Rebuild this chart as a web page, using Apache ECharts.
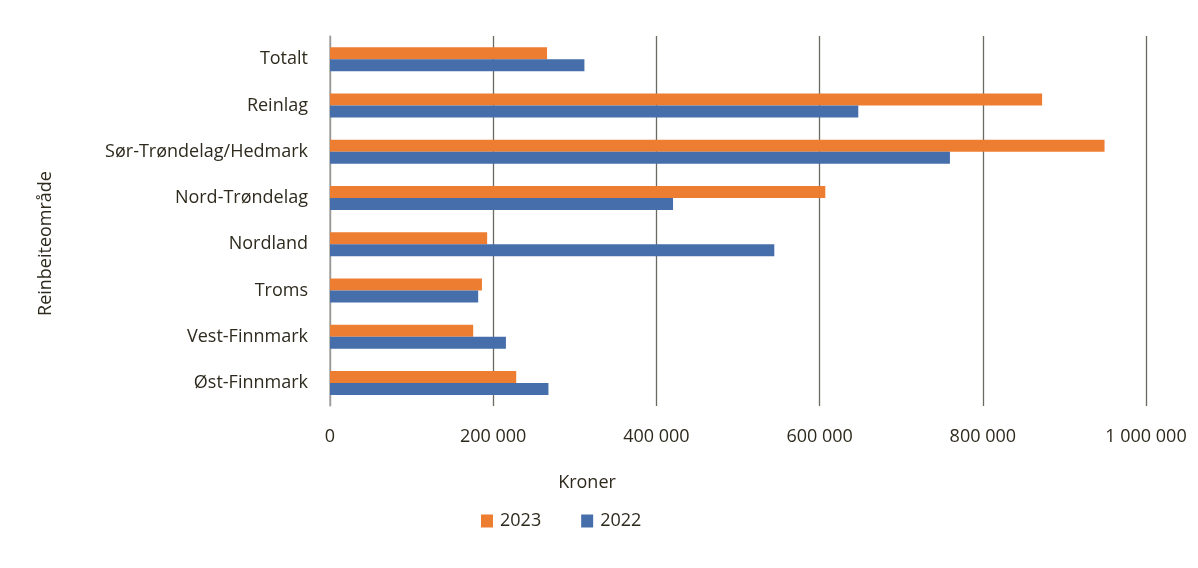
<!DOCTYPE html>
<html>
<head>
<meta charset="utf-8">
<script src="https://cdn.jsdelivr.net/npm/echarts@6/dist/echarts.min.js"></script>
<style>
html,body{margin:0;padding:0;background:#fff;}
#chart{width:1198px;height:568px;}
</style>
</head>
<body>
<div id="chart"></div>
<script>
const categories = ["Totalt","Reinlag","Sør-Trøndelag/Hedmark","Nord-Trøndelag","Nordland","Troms","Vest-Finnmark","Øst-Finnmark"];
const values2023 = [266000, 872700, 949200, 607000, 192600, 186200, 175500, 228200];
const values2022 = [311800, 647400, 759700, 420400, 544500, 181600, 215600, 267700];
const xTicks = [0, 200000, 400000, 600000, 800000, 1000000];

const FONT = "'Open Sans', sans-serif";
const TXT = '#2e2a1e';
const FS = 18;

const chart = echarts.init(document.getElementById('chart'));
chart.setOption({
  animation: false,
  grid: {left: 330, right: 52, top: 36, bottom: 162, containLabel: false},
  legend: {
    data: ['2023', '2022'],
    left: 481, top: 512, padding: 0,
    itemWidth: 12, itemHeight: 13, itemGap: 40,
    icon: 'rect',
    textStyle: {fontFamily: FONT, fontSize: FS, color: TXT, padding: [0,0,0,2]}
  },
  xAxis: {
    type: 'value', min: 0, max: 1000000, interval: 200000,
    name: 'Kroner', nameLocation: 'middle', nameGap: 68,
    nameTextStyle: {fontFamily: FONT, fontSize: FS, color: TXT, padding: [0, 302, 0, 0]},
    axisLine: {show: false}, axisTick: {show: false},
    axisLabel: {
      margin: 22, fontFamily: FONT, fontSize: FS, color: TXT,
      formatter: v => xTicks.includes(v) ? String(v).replace(/\B(?=(\d{3})+(?!\d))/g, ' ') : ''
    },
    splitLine: {show: true, lineStyle: {color: '#6b6a60', width: 1.3}}
  },
  yAxis: {
    type: 'category', data: categories, inverse: true,
    axisLine: {show: true, lineStyle: {color: '#aaaaaa', width: 1.5}},
    axisTick: {show: false},
    axisLabel: {margin: 22, fontFamily: FONT, fontSize: FS, color: TXT}
  },
  graphic: [{
    type: 'text', x: 46, y: 243.5, rotation: Math.PI / 2,
    style: {text: 'Reinbeiteområde', fontFamily: FONT, fontSize: FS, fill: TXT, align: 'center', verticalAlign: 'middle'}
  }],
  series: [
    {name: '2023', type: 'bar', data: values2023, barWidth: 12, barGap: '0%',
     itemStyle: {color: '#ed7d31'}},
    {name: '2022', type: 'bar', data: values2022, barWidth: 12, barGap: '0%',
     itemStyle: {color: '#466eab'}}
  ]
});
</script>
</body>
</html>
